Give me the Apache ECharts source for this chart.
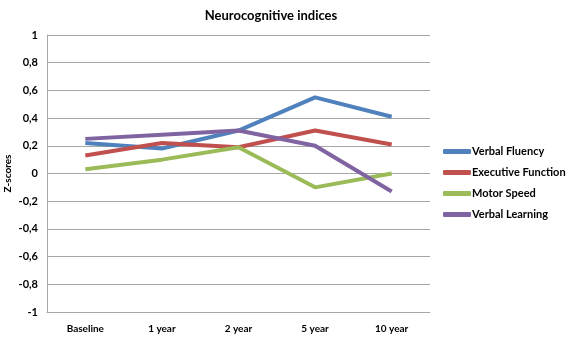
<!DOCTYPE html>
<html>
<head>
<meta charset="utf-8">
<script src="https://cdn.jsdelivr.net/npm/echarts@6/dist/echarts.min.js"></script>
<style>
  html, body { margin: 0; padding: 0; background: #fff; }
  #chart { width: 567px; height: 339px; }
</style>
</head>
<body>
<div id="chart"></div>
<script>
// categories and scores
var categories = ["Baseline", "1 year", "2 year", "5 year", "10 year"];
var verbalFluency = [0.22, 0.18, 0.31, 0.55, 0.41];
var executiveFunction = [0.13, 0.22, 0.19, 0.31, 0.21];
var motorSpeed = [0.03, 0.10, 0.19, -0.10, 0.00];
var verbalLearning = [0.25, 0.28, 0.31, 0.20, -0.13];

var seriesNames = ["Verbal Fluency", "Executive Function", "Motor Speed", "Verbal Learning"];
var colors = ["#4F81BD", "#C0504D", "#9BBB59", "#8064A2"];
var values = [verbalFluency, executiveFunction, motorSpeed, verbalLearning];

var font = "Lato, 'Open Sans', sans-serif";

var chart = echarts.init(document.getElementById("chart"));

var series = [];
for (var i = 0; i < seriesNames.length; i++) {
  series.push({
    name: seriesNames[i],
    type: "line",
    data: values[i],
    showSymbol: false,
    symbol: "none",
    lineStyle: { width: 4, color: colors[i] },
    itemStyle: { color: colors[i] }
  });
}

var option = {
  backgroundColor: "#fff",
  animation: false,
  title: {
    text: "Neurocognitive indices",
    left: 266,
    textAlign: "center",
    top: 4,
    textStyle: { fontFamily: font, fontSize: 13, fontWeight: "bold", color: "#000" }
  },
  legend: {
    orient: "vertical",
    left: 438,
    top: 141,
    itemWidth: 28,
    itemHeight: 5,
    itemGap: 10,
    icon: "roundRect",
    data: seriesNames,
    textStyle: { fontFamily: font, fontSize: 11, fontWeight: "bold", color: "#000", padding: [0, 0, 0, -4] }
  },
  grid: {
    left: 47,
    right: 137,
    top: 35,
    bottom: 27,
    containLabel: false,
    outerBoundsMode: "none"
  },
  xAxis: {
    type: "category",
    data: categories,
    boundaryGap: true,
    axisLine: { onZero: false, lineStyle: { color: "#A6A6A6", width: 1 } },
    axisTick: { show: false },
    axisLabel: {
      fontFamily: font, fontSize: 10, fontWeight: "bold", color: "#000", margin: 12
    }
  },
  yAxis: {
    type: "value",
    min: -1,
    max: 1,
    interval: 0.2,
    name: "Z-scores",
    nameLocation: "middle",
    nameGap: 34,
    nameRotate: 90,
    nameMoveOverlap: false,
    nameTextStyle: { fontFamily: font, fontSize: 10, fontWeight: "bold", color: "#000" },
    axisLine: { show: true, lineStyle: { color: "#A6A6A6" } },
    axisTick: { show: false },
    splitLine: { lineStyle: { color: "#A6A6A6", width: 1 } },
    axisLabel: {
      fontFamily: font, fontSize: 11, fontWeight: "bold", color: "#000", margin: 9,
      formatter: function (v) {
        var r = Math.round(v * 10) / 10;
        return String(r).replace(".", ",");
      }
    }
  },
  series: series
};

chart.setOption(option);
</script>
</body>
</html>
